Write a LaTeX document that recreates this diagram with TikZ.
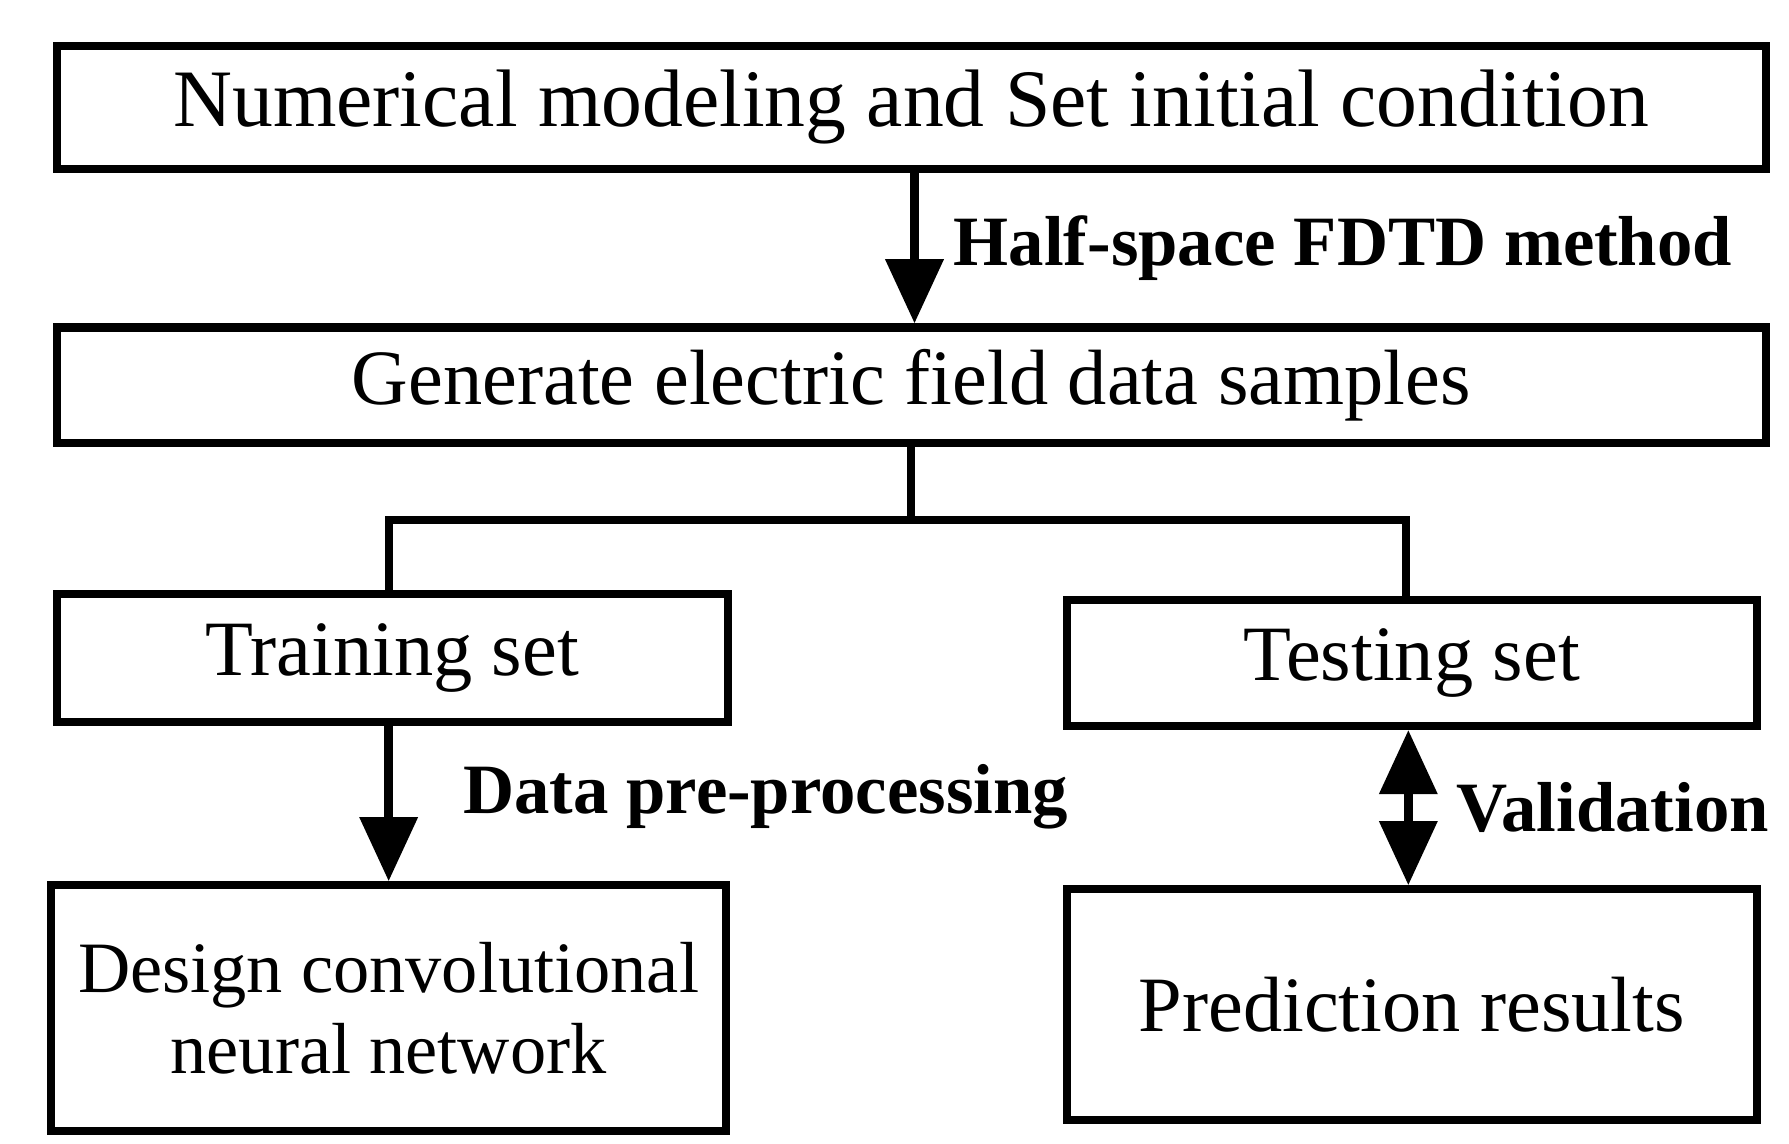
\documentclass[tikz,border=0pt]{standalone}
\usepackage{fontspec}
\setmainfont{Liberation Serif}
\usetikzlibrary{arrows.meta}
\begin{document}
\begin{tikzpicture}[x=0.01cm,y=-0.01cm,
 box/.style={draw,line width=2pt,inner sep=0pt,font=\fontsize{19.5}{23}\selectfont,align=center},
 lab/.style={font=\bfseries\fontsize{17.6}{20}\selectfont,anchor=west},
 arr/.style={line width=2.4pt,-{Triangle[width=14pt,length=16pt]}},
 darr/.style={line width=2.4pt,{Triangle[width=14pt,length=16pt]}-{Triangle[width=14pt,length=16pt]}},
 ln/.style={line width=2pt}]
\useasboundingbox (0,0) rectangle (1565,1000);
\node[box,minimum width=1495*0.01cm,minimum height=108*0.01cm,font=\fontsize{20.3}{23}\selectfont] (b1) at (797,94) {Numerical modeling and Set initial condition};
\node[box,minimum width=1495*0.01cm,minimum height=101*0.01cm] (b2) at (797,337) {Generate electric field data samples};
\node[box,minimum width=587*0.01cm,minimum height=112*0.01cm] (b3) at (343,576) {Training set};
\node[box,minimum width=604*0.01cm,minimum height=110*0.01cm] (b4) at (1235,580) {Testing set};
\node[box,minimum width=590*0.01cm,minimum height=215*0.01cm,font=\fontsize{18}{20}\selectfont] (b5) at (340,882) {Design convolutional\\neural network};
\node[box,minimum width=604*0.01cm,minimum height=202*0.01cm] (b6) at (1235,879) {Prediction results};
\draw[arr] (b1.south -| 800,0) -- (b2.north -| 800,0);
\node[lab] (l1) at (822,217) {Half-space FDTD method};
\coordinate (j) at (797,455);
\draw[ln] (b2.south -| j) -- (j);
\draw[ln] (b3.north -| 340,0) |- (j) -| (b4.north -| 1230,0);
\draw[arr] (b3.south -| 340,0) -- (b5.north -| 340,0);
\node[lab] (l2) at (393,697) {Data pre-processing};
\draw[darr] (b4.south -| 1232,0) -- (b6.north -| 1232,0);
\node[lab] (l3) at (1262,706) {Validation};
\end{tikzpicture}
\end{document}
